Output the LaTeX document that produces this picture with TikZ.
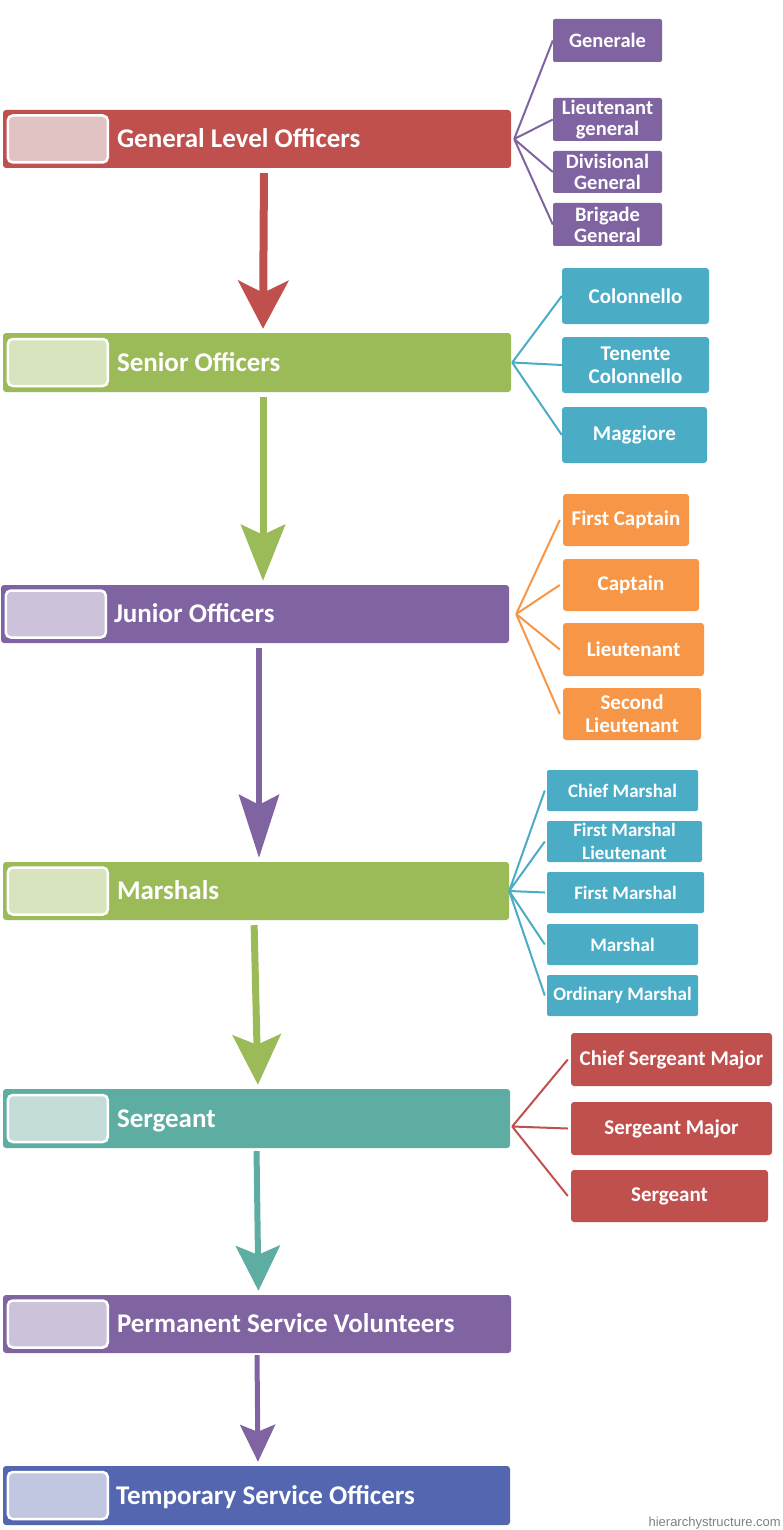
\documentclass[tikz,border=0pt]{standalone}
\usepackage{fontspec}
\setmainfont{Carlito}
\newfontfamily\sitefont{Liberation Sans}
\usetikzlibrary{arrows.meta, positioning}

\definecolor{brick}{RGB}{192,80,77}
\definecolor{brickpad}{RGB}{226,195,196}
\definecolor{olive}{RGB}{155,187,89}
\definecolor{olivepad}{RGB}{215,228,190}
\definecolor{grape}{RGB}{128,100,162}
\definecolor{grapepad}{RGB}{204,194,218}
\definecolor{sea}{RGB}{93,173,162}
\definecolor{seapad}{RGB}{197,221,217}
\definecolor{indigo}{RGB}{84,102,176}
\definecolor{indigopad}{RGB}{193,199,225}
\definecolor{sky}{RGB}{75,172,198}
\definecolor{tangerine}{RGB}{247,150,70}

\begin{document}
\begin{tikzpicture}[x=1pt, y=-1pt,
  lvl/.style={rectangle, rounded corners=3pt, minimum width=508pt, minimum height=58pt, inner sep=0pt},
  pad/.style={rectangle, rounded corners=5pt, draw=white, line width=2.5pt, minimum width=100pt, minimum height=47pt},
  lvltext/.style={anchor=base west, inner sep=0pt, text=white, font=\bfseries\fontsize{27}{30}\selectfont},
  rank/.style={rectangle, rounded corners=2pt, inner sep=0pt, text=white, align=center, font=\bfseries\fontsize{21}{23}\selectfont},
  twig/.style={line width=2pt},
  down/.style={shorten <=5pt, shorten >=4pt}
]
\useasboundingbox (0,0) rectangle (782,1530);

% levels
\node[lvl, fill=brick] (gen) at (257,139) {};
\node[lvl, fill=olive, minimum height=59pt] (sen) at (257,362.5) {};
\node[lvl, fill=grape] (jun) at (255,614) {};
\node[lvl, fill=olive, minimum width=506pt] (mar) at (256,891) {};
\node[lvl, fill=sea, minimum width=507pt, minimum height=59pt] (ser) at (256.5,1118.5) {};
\node[lvl, fill=grape] (per) at (257,1324) {};
\node[lvl, fill=indigo, minimum width=507pt, minimum height=59pt] (tem) at (256.5,1495.5) {};

\node[pad, fill=brickpad] (genP) at ([xshift=55pt]gen.west) {};
\node[pad, fill=olivepad] (senP) at ([xshift=55pt]sen.west) {};
\node[pad, fill=grapepad] (junP) at ([xshift=55pt]jun.west) {};
\node[pad, fill=olivepad] (marP) at ([xshift=55pt]mar.west) {};
\node[pad, fill=seapad] (serP) at ([xshift=55pt]ser.west) {};
\node[pad, fill=grapepad] (perP) at ([xshift=55pt]per.west) {};
\node[pad, fill=indigopad] (temP) at ([xshift=55pt]tem.west) {};

\node[lvltext] (genT) at ([xshift=114pt,yshift=-8.5pt]gen.west) {General Level Officers};
\node[lvltext] (senT) at ([xshift=114pt,yshift=-8.5pt]sen.west) {Senior Officers};
\node[lvltext] (junT) at ([xshift=113pt,yshift=-8.5pt]jun.west) {Junior Officers};
\node[lvltext] (marT) at ([xshift=114pt,yshift=-8.5pt]mar.west) {Marshals};
\node[lvltext] (serT) at ([xshift=114pt,yshift=-8.5pt]ser.west) {Sergeant};
\node[lvltext] (perT) at ([xshift=114pt,yshift=-8.5pt]per.west) {Permanent Service Volunteers};
\node[lvltext] (temT) at ([xshift=113pt,yshift=-8.5pt]tem.west) {Temporary Service Officers};

% ranks
\node[rank, fill=grape, font=\bfseries\fontsize{20.5}{21}\selectfont, minimum width=109pt, minimum height=43pt] (genA) at (607.5,40.5) {Generale};
\node[rank, fill=grape, font=\bfseries\fontsize{20.5}{21}\selectfont, minimum width=109pt, minimum height=43pt] (genB) at (607.5,119.5) {Lieutenant\\general};
\node[rank, fill=grape, font=\bfseries\fontsize{20.5}{21}\selectfont, minimum width=109pt, minimum height=42pt] (genC) at (607.5,172) {Divisional\\General};
\node[rank, fill=grape, font=\bfseries\fontsize{20.5}{21}\selectfont, minimum width=109pt, minimum height=43pt] (genD) at (607.5,224.5) {Brigade\\General};

\node[rank, fill=sky, rounded corners=3pt, minimum width=147pt, minimum height=56pt] (senA) at (635.5,296) {Colonnello};
\node[rank, fill=sky, rounded corners=3pt, minimum width=147pt, minimum height=56pt] (senB) at (635.5,365) {Tenente\\Colonnello};
\node[rank, fill=sky, rounded corners=3pt, minimum width=145pt, minimum height=56pt] (senC) at (634.5,435) {Maggiore};

\node[rank, fill=tangerine, rounded corners=3pt, minimum width=126pt, minimum height=52pt] (junA) at (626,520) {First Captain};
\node[rank, fill=tangerine, rounded corners=3pt, minimum width=136pt, minimum height=52pt] (junB) at (631,585) {Captain};
\node[rank, fill=tangerine, rounded corners=3pt, minimum width=141pt, minimum height=53pt] (junC) at (633.5,649.5) {Lieutenant};
\node[rank, fill=tangerine, rounded corners=3pt, minimum width=138pt, minimum height=52pt] (junD) at (632,714) {Second\\Lieutenant};

\node[rank, fill=sky, font=\bfseries\fontsize{19}{23}\selectfont, minimum width=151pt, minimum height=41pt] (marA) at (622.5,790.5) {Chief Marshal};
\node[rank, fill=sky, font=\bfseries\fontsize{19}{23}\selectfont, minimum width=155pt, minimum height=41pt] (marB) at (624.5,841.5) {First Marshal\\Lieutenant};
\node[rank, fill=sky, font=\bfseries\fontsize{19}{23}\selectfont, minimum width=157pt, minimum height=41pt] (marC) at (625.5,892.5) {First Marshal};
\node[rank, fill=sky, font=\bfseries\fontsize{19}{23}\selectfont, minimum width=151pt, minimum height=41pt] (marD) at (622.5,944.5) {Marshal};
\node[rank, fill=sky, font=\bfseries\fontsize{19}{23}\selectfont, minimum width=151pt, minimum height=41pt] (marE) at (622.5,995.5) {Ordinary Marshal};

\node[rank, fill=brick, rounded corners=3pt, minimum width=201pt, minimum height=53pt] (serA) at (671.5,1059.5) {Chief Sergeant Major};
\node[rank, fill=brick, rounded corners=3pt, minimum width=201pt, minimum height=53pt] (serB) at (671.5,1128.5) {Sergeant Major};
\node[rank, fill=brick, rounded corners=3pt, minimum width=197pt, minimum height=52pt] (serC) at (669.5,1196) {Sergeant};

% twigs
\draw[twig, grape] ([xshift=3pt]gen.east) -- (genA.west) ([xshift=3pt]gen.east) -- (genB.west)
  ([xshift=3pt]gen.east) -- (genC.west) ([xshift=3pt]gen.east) -- (genD.west);
\draw[twig, sky] ([xshift=1pt]sen.east) -- (senA.west) ([xshift=1pt]sen.east) -- (senB.west)
  ([xshift=1pt]sen.east) -- (senC.west);
\draw[twig, tangerine] ([xshift=7pt]jun.east) -- ([xshift=-3pt]junA.west) ([xshift=7pt]jun.east) -- ([xshift=-3pt]junB.west)
  ([xshift=7pt]jun.east) -- ([xshift=-3pt]junC.west) ([xshift=7pt]jun.east) -- ([xshift=-3pt]junD.west);
\draw[twig, sky] (mar.east) -- ([xshift=-2pt]marA.west) (mar.east) -- ([xshift=-2pt]marB.west)
  (mar.east) -- ([xshift=-2pt]marC.west) (mar.east) -- ([xshift=-2pt]marD.west)
  (mar.east) -- ([xshift=-2pt]marE.west);
\draw[twig, brick] ([xshift=2pt,yshift=-8pt]ser.east) -- ([xshift=-3pt]serA.west)
  ([xshift=2pt,yshift=-8pt]ser.east) -- ([xshift=-3pt]serB.west)
  ([xshift=2pt,yshift=-8pt]ser.east) -- ([xshift=-3pt]serC.west);

% arrows
\draw[down, line width=8pt, brick, -{Stealth[length=48pt, width=50pt, inset=12pt]}]
  ([xshift=7pt]gen.south) -- ([xshift=6pt]sen.north);
\draw[down, line width=7pt, olive, -{Stealth[length=56pt, width=44pt, inset=10pt]}]
  ([xshift=6pt]sen.south) -- ([xshift=8pt]jun.north);
\draw[down, line width=6pt, grape, -{Stealth[length=63pt, width=40pt, inset=10pt]}]
  ([xshift=4pt]jun.south) -- ([xshift=3pt]mar.north);
\draw[down, line width=7pt, olive, -{Stealth[length=50pt, width=48pt, inset=10pt]}]
  ([xshift=-2pt]mar.south) -- ([xshift=1.5pt]ser.north);
\draw[down, line width=6pt, sea, shorten <=3pt, -{Stealth[length=45pt, width=44pt, inset=9pt]}]
  ([xshift=0pt]ser.south) -- ([xshift=1.5pt]per.north);
\draw[down, line width=5pt, grape, shorten <=2pt, -{Stealth[length=37pt, width=35pt, inset=7pt]}]
  ([xshift=0pt]per.south) -- ([xshift=1.5pt]tem.north);

\node[anchor=south east, inner sep=1pt, text=gray, font=\sitefont\fontsize{13}{14}\selectfont] (site) at (782,1530) {hierarchystructure.com};
\end{tikzpicture}
\end{document}
